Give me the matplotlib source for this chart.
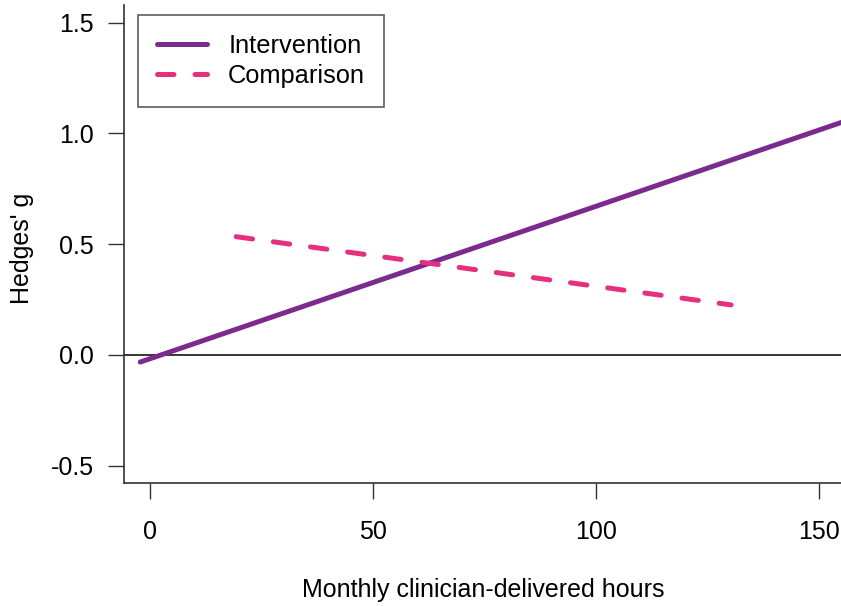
import matplotlib
matplotlib.use('Agg')
import matplotlib.pyplot as plt

plt.rcParams['font.family'] = ['Liberation Sans', 'DejaVu Sans']

# Fitted lines (end points)
interv_x = [-2.2, 160.0]
interv_y = [-0.032, 1.085]
comp_x = [19.3, 130.2]
comp_y = [0.534, 0.226]

x_ticks = [0, 50, 100, 150]
y_ticks = [-0.5, 0.0, 0.5, 1.0, 1.5]
y_tick_labels = ['-0.5', '0.0', '0.5', '1.0', '1.5']

purple = '#7B2B8D'
pink = '#E5307F'

fig = plt.figure(figsize=(8.41, 6.06), dpi=100)
ax = fig.add_axes([124 / 841, 1 - 483 / 606, 1 - 124 / 841 + 0.002, (483 - 5) / 606])

ax.axhline(0, color='black', linewidth=1.1, zorder=1)
ax.plot(interv_x, interv_y, color=purple, linewidth=3.6, solid_capstyle='round',
        label='Intervention', zorder=3)
ax.plot(comp_x, comp_y, color=pink, linewidth=3.6, linestyle=(0, (3.3, 4.2)),
        dash_capstyle='round', label='Comparison', zorder=3)

ax.set_xlim(-5.84, 155.2)
ax.set_ylim(-0.578, 1.580)

ax.set_xticks(x_ticks)
ax.set_yticks(y_ticks)
ax.set_yticklabels(y_tick_labels)
ax.tick_params(direction='out', length=11.5, width=1.0, labelsize=18, color='#333333')
ax.tick_params(axis='x', pad=15)
ax.tick_params(axis='y', pad=10)

for side in ['top', 'right']:
    ax.spines[side].set_visible(False)
for side in ['left', 'bottom']:
    ax.spines[side].set_linewidth(1.2)
    ax.spines[side].set_color('#333333')

fig.text(483 / 841, 1 - 590 / 606, 'Monthly clinician-delivered hours', fontsize=18,
         ha='center', va='center')
fig.text(22 / 841, 1 - 248 / 606, "Hedges' g", fontsize=18, rotation=90,
         ha='center', va='center')

leg = ax.legend(loc='upper left', bbox_to_anchor=(138 / 841, 1 - 15 / 606),
                bbox_transform=fig.transFigure, fontsize=18.3, frameon=True,
                fancybox=False, edgecolor='#333333', handlelength=1.95,
                handletextpad=0.85, borderpad=0.75, labelspacing=0.22,
                borderaxespad=0)
leg.get_frame().set_linewidth(1.2)

fig.savefig('out.png', dpi=100)
